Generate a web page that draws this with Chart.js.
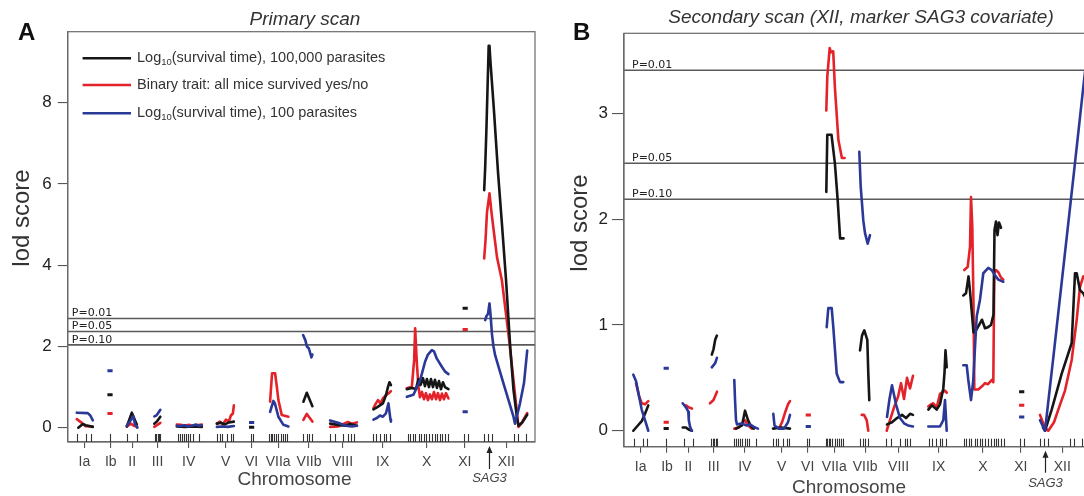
<!DOCTYPE html>
<html><head><meta charset="utf-8">
<script src="https://cdn.jsdelivr.net/npm/chart.js@4/dist/chart.umd.min.js"></script>
<style>
html,body{margin:0;padding:0;background:#fff;overflow:hidden;width:1084px;height:496px;}
#wa{position:absolute;left:0;top:0;width:560px;height:496px;}
#wb{position:absolute;left:540px;top:0;width:560px;height:496px;}
</style></head><body>
<div id="wa"><canvas id="ca" width="560" height="496"></canvas></div>
<div id="wb"><canvas id="cb" width="560" height="496"></canvas></div>
<script>
// ---- shared map ----
const chromNames = ['Ia','Ib','II','III','IV','V','VI','VIIa','VIIb','VIII','IX','X','XI','XII'];
const chromPos = [16.6, 43, 64.3, 89.7, 120.8, 157.7, 183.7, 210.3, 241.1, 274.6, 314.7, 358.8, 396.9, 438.3];
const sag3Pos = 421.5;
const markerPos = [9.5,18.5,23, 41.7, 59.5,68.8, 87,88.5,90,91.5,92.5,
  110.3,112,114,116,118,120.5,122.5,125,131.5, 149.3,152,154.4,159.2,163.3,165.2, 182.8,184.8,
  201.5,203,204.5,206,208,210.5,213,215,217,219, 235.5,238.8,241,244.4,
  262,267,275.5,280.5,283,286.2, 305,308,312,316,318,322.3,
  340,342.4,344.7,347.1,350.8,353.2,355.9,358.4,361.2,364.4,367.3,369.5,371.6,374,377,380.1,
  395.7,399.7, 416,420,424.3,446.2,450.2,458.4];

// ---- Primary scan (A) ----
const primaryThresholds = [2.69, 2.37, 2.04];
const primaryThresholdLabels = ['P=0.01','P=0.05','P=0.10'];
const primaryYTicks = [0,2,4,6,8];
const primaryBlack = [
 [[10.5,0.0],[15,0.09],[18,0.06],[25,0.02]],
 [[59,0.03],[64,0.37],[66,0.25],[69,0.08]],
 [[86.5,0.1],[89,0.15],[92.5,0.27]],
 [[109,0.03],[117,0.02],[125,0.03],[134,0.02]],
 [[149,0.1],[153,0.12],[157,0.08],[161,0.13],[166,0.15]],
 [[235.5,0.64],[238.9,0.86],[244.5,0.53]],
 [[262.2,0.1],[270,0.07],[277,0.05],[282,0.09],[289,0.05]],
 [[305.5,0.45],[309,0.5],[312,0.55],[315,0.6],[318,0.8],[320,1.0],[321.5,1.12],[323,1.05]],
 [[338.9,0.95],[343.9,0.98],[348,0.95],[350.5,1.2],[352.5,1.05],[355,1.22],[357,1.02],[359,1.2],[361,1.0],[363,1.2],[365,1.0],[367,1.18],[369,0.98],[371,1.15],[373,0.95],[375,1.12],[377,1.0],[380.5,0.95]],
 [[416.2,5.85],[417.2,6.4],[418.5,7.4],[419.7,8.5],[420.7,9.4],[421.5,9.4],[422.5,9.0],[426,7.8],[430,6.3],[434,5.0],[438,3.65],[442.2,2.0],[445.5,0.93],[448.9,0.26],[450.5,0.05],[454,0.12],[459.2,0.32]]
];
const primaryBlackSingle = [[42.2,0.81],[183.7,0.01],[397.2,2.94]];
const primaryRed = [
 [[9,0.21],[14,0.12],[17.5,0.04],[25,0.03]],
 [[59,0.03],[63,0.1],[66,0.05],[69.5,0.02]],
 [[86.5,0.02],[89,0.06],[92.5,0.12]],
 [[109,0.08],[113,0.07],[117,0.05],[121,0.07],[125,0.04],[129,0.06],[134,0.08]],
 [[149,0.1],[152,0.15],[155,0.08],[158,0.2],[161,0.15],[163,0.3],[165,0.35],[166,0.55]],
 [[202.2,0.64],[203.5,1.1],[204.2,1.34],[207.2,1.34],[209,1.0],[210.5,0.68],[213.9,0.31],[220.5,0.27]],
 [[235.5,0.19],[238.9,0.34],[244.5,0.15]],
 [[262.2,0.02],[270,0.03],[276,0.1],[280,0.14],[284,0.1],[289,0.13]],
 [[305.5,0.48],[308,0.6],[310,0.68],[312.5,0.6],[315,0.72],[318,0.8],[321,0.85],[323,0.9]],
 [[338.9,0.97],[343.9,1.01],[346.2,1.67],[347.2,2.45],[348.9,1.59],[350.5,1.01],[352,0.75],[354,0.88],[356,0.7],[358,0.85],[360,0.68],[362,0.82],[364,0.7],[366,0.88],[368,0.7],[370,0.85],[372,0.68],[374,0.84],[376,0.7],[378,0.85],[380.5,0.72]],
 [[416.2,4.17],[417.5,4.6],[419,5.3],[421.5,5.77],[423.5,5.3],[426,4.8],[429,4.2],[433.9,3.63],[440.5,2.3],[445.5,1.17],[450.5,0.02],[453.2,0.1],[457.2,0.27],[459.2,0.36]]
];
const primaryRedSingle = [[42.2,0.35],[397.2,2.42]];
const primaryBlue = [
 [[9,0.37],[20,0.36],[22.5,0.3],[25,0.18]],
 [[59,0.05],[62,0.15],[65.5,0.28],[67,0.1],[69.5,0.0]],
 [[86.5,0.28],[88.5,0.3],[90,0.35],[92.5,0.44]],
 [[109,0.05],[113,0.04],[117,0.06],[120,0.03],[124,0.05],[128,0.08],[131,0.05],[134,0.06]],
 [[149,0.02],[155,0.03],[160,0.02],[166,0.04]],
 [[202.2,0.39],[205.5,0.66],[207,0.6],[210.5,0.27],[215.5,0.07],[220.5,0.03]],
 [[235.2,2.28],[237.5,2.15],[239,2.0],[241,1.95],[243.5,1.73],[244.5,1.8]],
 [[262.2,0.18],[270,0.12],[278,0.05],[284,0.03],[289,0.05]],
 [[305.5,0.2],[309,0.24],[312,0.3],[315,0.27],[318,0.35],[320.5,0.6],[322.5,0.2],[323,0.15]],
 [[338.9,0.76],[345.5,0.81],[352.2,1.17],[357.2,1.63],[360,1.8],[363.9,1.91],[366,1.88],[368.9,1.7],[373.9,1.5],[377.2,1.38],[380.5,1.32]],
 [[417.2,2.65],[418.5,2.75],[420,2.8],[421.5,3.06],[422.5,2.8],[424,2.3],[425.5,2.0],[427.2,1.78],[436,1.05],[445.5,0.27],[447,0.1],[452,0.6],[456,1.1],[459.2,1.9]]
];
const primaryBlueSingle = [[42.2,1.40],[183.7,0.13],[397.2,0.39]];

// ---- Secondary scan (B) ----
const secondaryThresholds = [3.41, 2.53, 2.19];
const secondaryThresholdLabels = ['P=0.01','P=0.05','P=0.10'];
const secondaryYTicks = [0,1,2,3];
const secondaryBlack = [
 [[9.3,0.0],[13,0.04],[17.7,0.09],[21,0.16],[24.3,0.24]],
 [[58.7,0.03],[62,0.03],[65,0.01],[68,0.0]],
 [[87.8,0.72],[89.5,0.77],[91.2,0.86],[92.9,0.9]],
 [[112,0.02],[118,0.05],[121,0.19],[124,0.1],[127,0.04],[130,0.02]],
 [[149,0.02],[157,0.03],[166,0.02]],
 [[202.3,2.26],[203.3,2.8],[207.5,2.8],[210.9,2.53],[213.7,2.18],[216.1,1.82],[219.6,1.82]],
 [[236,0.76],[238,0.9],[240.3,0.95],[243.3,0.86],[244.3,0.54],[245.3,0.29]],
 [[263,0.06],[268,0.08],[273,0.12],[278,0.15],[282,0.12],[286,0.16],[289,0.15]],
 [[304.3,0.2],[308,0.24],[312.7,0.2],[316,0.25],[319.3,0.4],[320.5,0.55],[321.5,0.76],[322.7,0.6]],
 [[339.3,1.28],[342,1.3],[344.5,1.46],[346,1.32],[348,1.1],[349.5,0.93],[352,0.95],[355,1.0],[358,1.05],[361,0.97],[364,0.98],[367,1.0],[369.5,1.1],[370.5,1.9],[372,1.98],[373.5,1.85],[375,1.97],[377,1.92]],
 [[419,0.03],[421,0.0],[427.7,0.2],[437.7,0.54],[447.7,0.83],[451,1.49],[452.7,1.49],[456,1.33],[459.3,1.3],[462,1.25]]
];
const secondaryBlackSingle = [[42.2,0.02],[397.7,0.37]];
const secondaryRed = [
 [[12,0.45],[15,0.33],[17.7,0.26],[21,0.25],[24.3,0.28]],
 [[62,0.24],[65,0.22],[68,0.21]],
 [[86,0.26],[89.5,0.29],[93,0.37]],
 [[110.3,0.02],[115,0.03],[118,0.07],[121,0.1],[124,0.05],[128,0.02]],
 [[155,0.02],[158,0.08],[161,0.17],[164,0.25],[166,0.28]],
 [[202.3,3.03],[203.3,3.35],[205.7,3.62],[207,3.58],[209.2,3.59],[210.9,3.25],[214.4,2.75],[217.9,2.58],[220.6,2.58]],
 [[237.7,0.15],[240,0.15],[242.7,0.1],[244.3,0.0]],
 [[262.7,0.0],[266,0.1],[270,0.22],[274,0.32],[277,0.45],[280,0.3],[283,0.5],[286,0.4],[289,0.52]],
 [[304.3,0.23],[307,0.25],[309.3,0.26],[312.7,0.22],[316,0.35],[319.3,0.37],[321,0.38],[322.7,0.36]],
 [[340.3,1.52],[343.7,1.55],[346,1.74],[347,2.21],[348.3,1.93],[349.5,1.2],[350.3,0.39],[354.3,0.39],[358,0.42],[361,0.45],[364,0.44],[367.7,0.48],[369.3,0.46],[370.3,1.49],[372,1.52],[374.3,1.5],[377,1.45],[379.3,1.43]],
 [[416,0.15],[418,0.1],[421,0.03],[424.3,0.0],[430,0.08],[434.3,0.2],[441,0.38],[447.7,0.67],[452.7,1.05],[456,1.36],[459.3,1.46],[462,1.45]]
];
const secondaryRedSingle = [[42.2,0.08],[184.3,0.15],[397.7,0.24]];
const secondaryBlue = [
 [[9.3,0.53],[12,0.47],[17.7,0.2],[21,0.1],[24.3,0.0]],
 [[58.7,0.26],[62,0.22],[64.3,0.18],[64.8,0.1],[66,0.04],[67.7,0.0]],
 [[87.8,0.6],[91.2,0.64],[92.9,0.69]],
 [[110.3,0.48],[111,0.3],[112,0.1],[113,0.06],[118,0.07],[122,0.05],[126,0.06],[131,0.03],[134,0.02]],
 [[149.3,0.16],[150.5,0.05],[155,0.02],[160,0.02],[164,0.08],[166,0.15]],
 [[202.7,0.98],[204.3,1.16],[207.7,1.16],[209.3,0.98],[212.7,0.54],[216,0.46],[219.3,0.46]],
 [[235.3,2.64],[236.7,2.31],[239.3,1.99],[241,1.87],[243.7,1.77],[246,1.85]],
 [[263,0.13],[265.5,0.3],[268,0.43],[272,0.25],[276,0.12],[280,0.07],[284,0.05],[289,0.04]],
 [[304.3,0.04],[316,0.04],[319.3,0.1],[321,0.29],[322.7,0.0]],
 [[339.3,0.62],[342.7,0.62],[344.3,0.48],[347,0.29],[349.3,0.48],[351,0.79],[352.7,1.08],[356,1.24],[359.3,1.49],[364.3,1.54],[367.7,1.52],[371,1.47],[374.3,1.43],[379.3,1.41]],
 [[416,0.1],[418.5,0.05],[421,0.0],[430,0.75],[440,1.6],[450,2.45],[459.3,3.25],[462,3.48]]
];
const secondaryBlueSingle = [[42.2,0.59],[184.3,0.04],[397.7,0.13]];

const legendLabels = [
  ['Log','10','(survival time), 100,000 parasites'],
  ['Binary trait: all mice survived yes/no','',''],
  ['Log','10','(survival time), 100 parasites']
];

// ---- styling ----
const BLACK='#161616', RED='#e42229', BLUE='#2a3898';
const XMAX = 467;
Chart.defaults.font.family = "'Liberation Sans', Arial, sans-serif";

function segs(list){
  const out=[];
  list.forEach((s,i)=>{ if(i>0) out.push({x:s[0][0],y:null}); s.forEach(p=>out.push({x:p[0],y:p[1]})); });
  return out;
}
function pts(list){ return list.map(p=>({x:p[0],y:p[1]})); }

const extras = {
  id:'extras',
  afterDraw(chart, args, o){
    const ctx=chart.ctx, a=chart.chartArea, xs=chart.scales.x, ys=chart.scales.y;
    ctx.save();
    // frame
    ctx.strokeStyle='#6a6a6a'; ctx.lineWidth=1.2;
    ctx.strokeRect(a.left, a.top, a.right-a.left, a.bottom-a.top);
    // rug markers
    ctx.strokeStyle='#333'; ctx.lineWidth=1.1;
    markerPos.forEach(m=>{ const x=Math.round(xs.getPixelForValue(m))+0.5; ctx.beginPath(); ctx.moveTo(x,a.bottom-8); ctx.lineTo(x,a.bottom); ctx.stroke(); });
    // threshold labels
    ctx.fillStyle='#222'; ctx.font="11px 'DejaVu Sans'"; ctx.textBaseline='alphabetic'; ctx.textAlign='left';
    o.thr.forEach((t,i)=>{ ctx.fillText(o.thrLabels[i], a.left+o.thrDx, ys.getPixelForValue(t)-2); });
    // SAG3 arrow
    const sx = xs.getPixelForValue(sag3Pos);
    ctx.strokeStyle='#222'; ctx.fillStyle='#222'; ctx.lineWidth=1.2;
    ctx.beginPath(); ctx.moveTo(sx,a.bottom+6); ctx.lineTo(sx,a.bottom+o.arrowLen); ctx.stroke();
    ctx.beginPath(); ctx.moveTo(sx,a.bottom+4); ctx.lineTo(sx-3,a.bottom+11); ctx.lineTo(sx+3,a.bottom+11); ctx.closePath(); ctx.fill();
    ctx.fillStyle='#444'; ctx.font="italic 13px 'Liberation Sans'"; ctx.textAlign='center'; ctx.textBaseline='middle';
    ctx.fillText('SAG3', sx, o.sagY);
    // Chromosome title
    ctx.font="19px 'Liberation Sans'"; ctx.fillStyle='#444';
    ctx.fillText('Chromosome', o.chromX, o.chromY);
    // panel title
    ctx.font="italic 19px 'Liberation Sans'"; ctx.fillStyle='#333';
    ctx.fillText(o.title, o.titleX, o.titleY);
    // letter
    ctx.font="bold 24px 'Liberation Sans'"; ctx.fillStyle='#111'; ctx.textAlign='left';
    ctx.fillText(o.letter, o.letterX, o.letterY);
    // y title
    ctx.save(); ctx.translate(o.ytX, o.ytY); ctx.rotate(-Math.PI/2);
    ctx.font="24px 'Liberation Sans'"; ctx.fillStyle='#333'; ctx.textAlign='center';
    ctx.fillText('lod score',0,0); ctx.restore();
    // legend
    if(o.legend){
      const cols=[BLACK,RED,BLUE], ys0=[58.3,85,113.3];
      legendLabels.forEach((lab,i)=>{
        const y=ys0[i];
        ctx.strokeStyle=cols[i]; ctx.lineWidth=2.5;
        ctx.beginPath(); ctx.moveTo(82.6,y); ctx.lineTo(131,y); ctx.stroke();
        ctx.fillStyle='#333'; ctx.textAlign='left'; ctx.textBaseline='middle';
        let x=137;
        ctx.font="14.5px 'Liberation Sans'"; ctx.fillText(lab[0],x,y); x+=ctx.measureText(lab[0]).width;
        if(lab[1]){ ctx.font="9.5px 'Liberation Sans'"; ctx.fillText(lab[1],x,y+4); x+=ctx.measureText(lab[1]).width; }
        if(lab[2]){ ctx.font="14.5px 'Liberation Sans'"; ctx.fillText(lab[2],x,y); }
      });
    }
    ctx.restore();
  }
};

function makePanel(id, p){
  const datasets=[];
  const ser=[[p.blue,p.blueS,BLUE],[p.black,p.blackS,BLACK],[p.red,p.redS,RED]];
  ser.forEach(s=>{
    datasets.push({data:segs(s[0]), borderColor:s[2], borderWidth:2.6, pointRadius:0, spanGaps:false, tension:0, fill:false,
      borderJoinStyle:'round', borderCapStyle:'round'});
  });
  ser.forEach(s=>{
    datasets.push({data:pts(s[1]), showLine:false, pointStyle:'line', pointRadius:2.6, pointBorderWidth:3, pointBorderColor:s[2], borderColor:s[2]});
  });
  p.thr.forEach(t=>datasets.push({data:[{x:0,y:t},{x:XMAX,y:t}], borderColor:'#5a5a5a', borderWidth:1.6, pointRadius:0}));
  return new Chart(document.getElementById(id), {
    type:'line',
    data:{datasets},
    plugins:[extras],
    options:{
      responsive:false, animation:false, events:[],
      layout:{padding:{left:0, right:p.padR, top:p.padT, bottom:0}},
      plugins:{legend:{display:false}, tooltip:{enabled:false}, extras:p.extras},
      scales:{
        x:{type:'linear', min:0, max:XMAX,
          afterBuildTicks:s=>{ s.ticks = chromPos.map(v=>({value:v})); },
          afterFit:s=>{ s.height=p.xH; },
          ticks:{autoSkip:false, maxRotation:0, minRotation:0, padding:6, color:'#444', font:{size:14},
            callback:(v,i)=>chromNames[i]},
          grid:{drawOnChartArea:false, drawTicks:true, tickLength:6, color:'#555', lineWidth:1.1},
          border:{color:'#6a6a6a', width:1.2}
        },
        y:{type:'linear', min:p.ymin, max:p.ymax,
          afterBuildTicks:s=>{ s.ticks = p.yticks.map(v=>({value:v})); },
          afterFit:s=>{ s.width=p.yW; },
          ticks:{padding:p.yPad, color:'#222', font:{size:17}},
          grid:{drawOnChartArea:false, drawTicks:true, tickLength:p.yTick, color:'#555', lineWidth:1.1},
          border:{color:'#6a6a6a', width:1.2}
        }
      }
    }
  });
}

makePanel('ca', {
  blue:primaryBlue, blueS:primaryBlueSingle, black:primaryBlack, blackS:primaryBlackSingle, red:primaryRed, redS:primaryRedSingle,
  thr:primaryThresholds, ymin:-0.352, ymax:9.75, yticks:primaryYTicks,
  padR:25, padT:31.7, xH:54, yW:67.8, yPad:6, yTick:10,
  extras:{thr:primaryThresholds, thrLabels:primaryThresholdLabels, thrDx:4, arrowLen:27, sagY:478.5,
    chromX:294.5, chromY:480, title:'Primary scan', titleX:305, titleY:20, letter:'A', letterX:18, letterY:33,
    ytX:22, ytY:218, legend:true}
});
makePanel('cb', {
  blue:secondaryBlue, blueS:secondaryBlueSingle, black:secondaryBlack, blackS:secondaryBlackSingle, red:secondaryRed, redS:secondaryRedSingle,
  thr:secondaryThresholds, ymin:-0.151, ymax:3.76, yticks:secondaryYTicks,
  padR:9, padT:33.3, xH:49.3, yW:84, yPad:4, yTick:12,
  extras:{thr:secondaryThresholds, thrLabels:secondaryThresholdLabels, thrDx:8, arrowLen:26, sagY:483.5,
    chromX:309, chromY:488, title:'Secondary scan (XII, marker SAG3 covariate)', titleX:321, titleY:18, letter:'B', letterX:33, letterY:33,
    ytX:40, ytY:223, legend:false}
});
</script>
</body></html>
